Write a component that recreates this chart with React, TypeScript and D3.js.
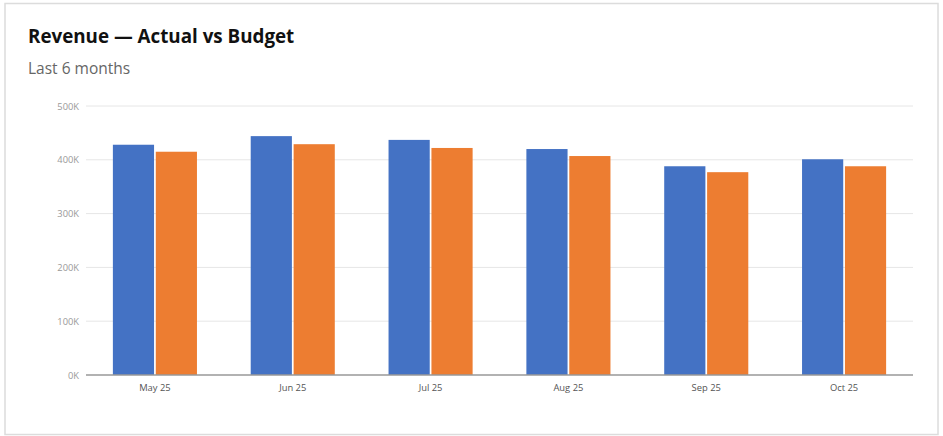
import { useRef, useEffect } from "react";
import * as d3 from "d3";

// Chart data
const months = ["May 25", "Jun 25", "Jul 25", "Aug 25", "Sep 25", "Oct 25"];
const actual = [428, 444, 437, 420, 388, 401];
const budget = [415, 429, 422, 407, 377, 388];
const yTicks = [0, 100, 200, 300, 400, 500];
const seriesNames = ["Actual", "Budget"];
const seriesColors = ["#4472C4", "#ED7D31"];

const FONT = "'Open Sans', 'Noto Sans', sans-serif";

const App = () => {
  const svgRef = useRef<SVGSVGElement | null>(null);
  const width = 943;
  const height = 436;

  useEffect(() => {
    if (!svgRef.current) return;
    const svg = d3.select(svgRef.current);
    svg.selectAll("*").remove();

    // frame
    svg
      .append("rect")
      .attr("x", 5)
      .attr("y", 3.5)
      .attr("width", 933)
      .attr("height", 431)
      .attr("fill", "#fff")
      .attr("stroke", "#dcdcdc")
      .attr("stroke-width", 1.5);

    svg
      .append("text")
      .attr("x", 28)
      .attr("y", 43)
      .text("Revenue — Actual vs Budget")
      .style("font-family", FONT)
      .style("font-weight", "700")
      .style("font-size", "18.8px")
      .style("fill", "#111");

    svg
      .append("text")
      .attr("x", 28)
      .attr("y", 74)
      .text("Last 6 months")
      .style("font-family", FONT)
      .style("font-size", "15.5px")
      .style("fill", "#666");

    const left = 86;
    const right = 913;
    const top = 106;
    const bottom = 375;

    const x = d3.scaleBand<string>().domain(months).range([left, right]).paddingInner(0.39).paddingOuter(0.195);
    const xs = d3.scaleBand<string>().domain(seriesNames).range([0, x.bandwidth()]).paddingInner(0.04);
    const y = d3.scaleLinear().domain([0, 500]).range([bottom, top]);

    // grid
    svg
      .append("g")
      .selectAll("line")
      .data(yTicks.slice(1))
      .enter()
      .append("line")
      .attr("x1", left)
      .attr("x2", right)
      .attr("y1", (d) => y(d))
      .attr("y2", (d) => y(d))
      .attr("stroke", "#e6e6e6")
      .attr("stroke-width", 1);

    // y labels
    svg
      .append("g")
      .selectAll("text")
      .data(yTicks)
      .enter()
      .append("text")
      .attr("x", 79)
      .attr("y", (d) => y(d) + 3.5)
      .attr("text-anchor", "end")
      .text((d) => `${d}K`)
      .style("font-family", FONT)
      .style("font-size", "9.3px")
      .style("fill", "#999");

    // bars
    const rows = months.map((m, i) => ({ m, vals: [actual[i], budget[i]] }));
    const groups = svg
      .append("g")
      .selectAll("g")
      .data(rows)
      .enter()
      .append("g")
      .attr("transform", (d) => `translate(${x(d.m)},0)`);

    groups
      .selectAll("rect")
      .data((d) => d.vals.map((v, j) => ({ v, s: seriesNames[j], c: seriesColors[j] })))
      .enter()
      .append("rect")
      .attr("x", (d) => xs(d.s) ?? 0)
      .attr("y", (d) => y(d.v))
      .attr("width", xs.bandwidth())
      .attr("height", (d) => bottom - y(d.v))
      .attr("fill", (d) => d.c);

    // baseline
    svg
      .append("line")
      .attr("x1", left)
      .attr("x2", right)
      .attr("y1", bottom)
      .attr("y2", bottom)
      .attr("stroke", "#999")
      .attr("stroke-width", 1.5);

    // x labels
    svg
      .append("g")
      .selectAll("text")
      .data(months)
      .enter()
      .append("text")
      .attr("x", (d) => (x(d) ?? 0) + x.bandwidth() / 2)
      .attr("y", 391)
      .attr("text-anchor", "middle")
      .text((d) => d)
      .style("font-family", FONT)
      .style("font-size", "9.4px")
      .style("fill", "#555");
  }, []);

  return (
    <svg
      ref={svgRef}
      width={width}
      height={height}
      style={{ position: "absolute", left: 0, top: 0, display: "block" }}
    ></svg>
  );
};

export default App;
